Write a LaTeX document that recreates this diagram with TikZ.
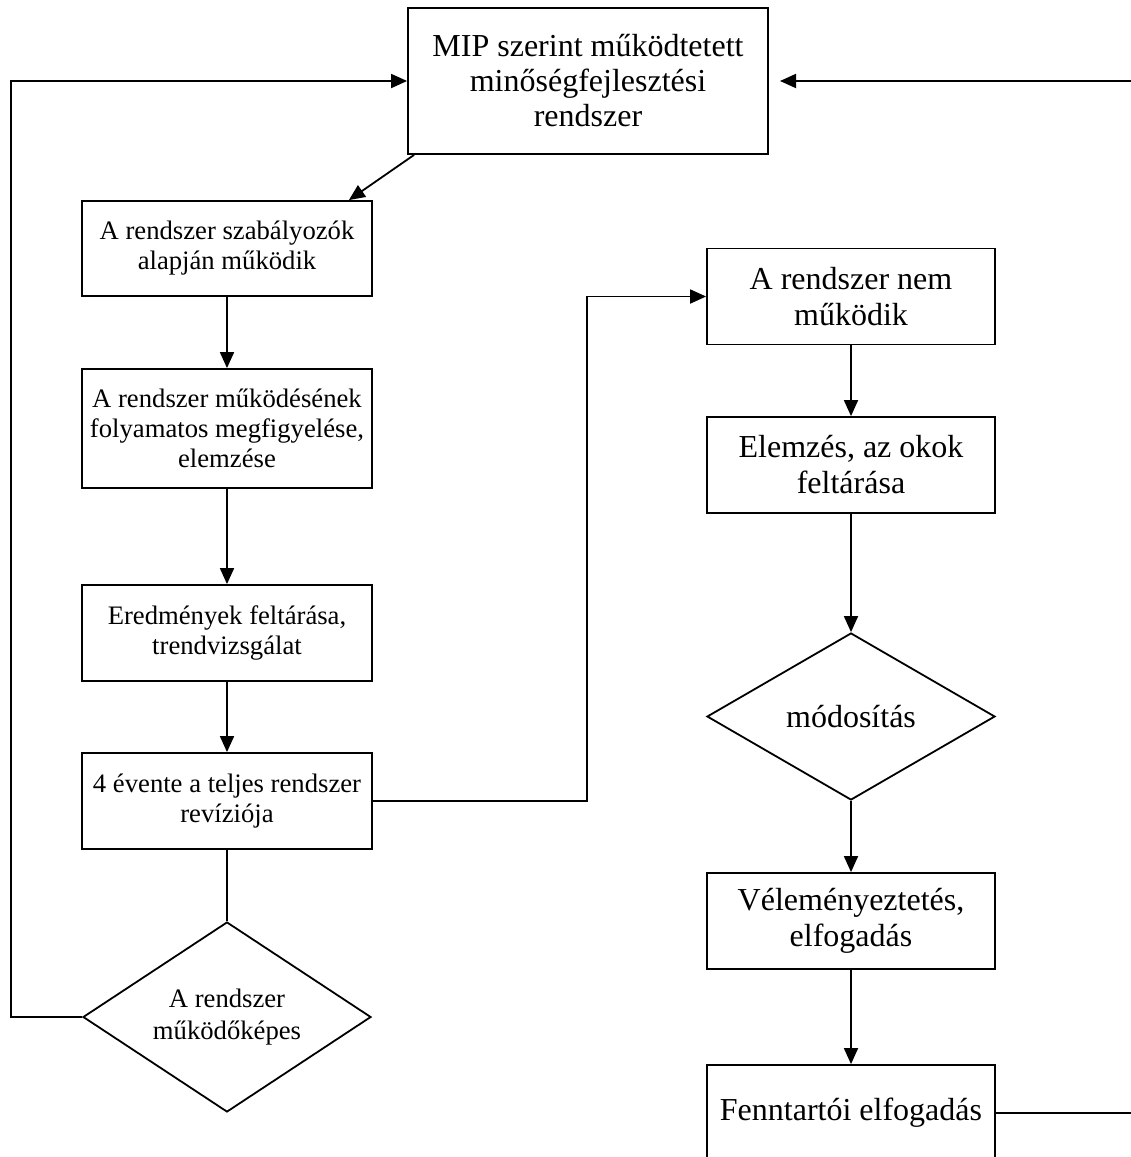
\documentclass[tikz,border=0pt]{standalone}
\usepackage{fontspec}
\setmainfont{Liberation Serif}
\usetikzlibrary{arrows.meta,shapes.geometric,calc}
\tikzset{
  base/.style={draw, line width=1.8pt, inner sep=0pt, align=center},
  lbox/.style={base, rectangle, minimum width=290pt, font=\fontsize{26.67}{30}\selectfont},
  rbox/.style={base, rectangle, minimum width=288pt, minimum height=96pt, font=\fontsize{32}{36}\selectfont},
  ldia/.style={base, diamond, aspect=1.5, minimum width=288pt, minimum height=190pt, font=\fontsize{26.67}{32}\selectfont},
  rdia/.style={base, diamond, aspect=1.7, minimum width=288pt, minimum height=167pt, font=\fontsize{32}{36}\selectfont},
  conn/.style={line width=1.8pt},
  arr/.style={conn, -{Triangle[length=16pt,width=14pt]}}
}
\begin{document}
\begin{tikzpicture}[x=1pt,y=-1pt]
\useasboundingbox (0,0) rectangle (1131,1157);
\node[base, rectangle, minimum width=360pt, minimum height=146pt, font=\fontsize{32}{35}\selectfont] (top) at (588,81) {MIP szerint működtetett\\minőségfejlesztési\\rendszer};
\node[lbox, minimum height=95pt] (b1) at (227,248.5) {A rendszer szabályozók\\alapján működik};
\node[lbox, minimum height=119pt] (b2) at (227,428.5) {A rendszer működésének\\folyamatos megfigyelése,\\elemzése};
\node[lbox, minimum height=96pt] (b3) at (227,633) {Eredmények feltárása,\\trendvizsgálat};
\node[lbox, minimum height=96pt] (b4) at (227,801) {4 évente a teljes rendszer\\revíziója};
\node[ldia] (dl) at (227,1017) {A rendszer\\működőképes};
\node[rbox] (r1) at (851,296.5) {A rendszer nem\\működik};
\node[rbox] (r2) at (851,465) {Elemzés, az okok\\feltárása};
\node[rdia] (dr) at (851,716.5) {módosítás};
\node[rbox] (r3) at (851,921) {Véleményeztetés,\\elfogadás};
\node[rbox] (r4) at (851,1113) {Fenntartói elfogadás};
\coordinate (rtip) at (780,81);
\draw[arr] ($(top.south west)+(7,0)$) -- ($(b1.north east)+(-24,0)$);
\draw[arr] (b1) -- (b2);
\draw[arr] (b2) -- (b3);
\draw[arr] (b3) -- (b4);
\draw[conn] (b4) -- (dl);
\draw[arr] (dl.west) -- (11,1017) |- (top.west);
\draw[arr] (b4.east) -- (587,801) |- (r1.west);
\draw[arr] (r1) -- (r2);
\draw[arr] (r2) -- (dr);
\draw[arr] (dr) -- (r3);
\draw[arr] (r3) -- (r4);
\draw[arr] (r4.east) -- (1150,1113) |- (rtip);
\end{tikzpicture}
\end{document}
